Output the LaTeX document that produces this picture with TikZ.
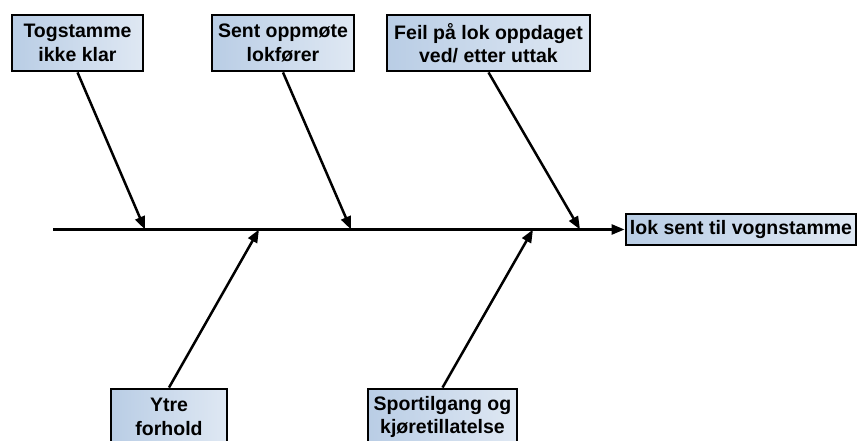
\documentclass[tikz,border=0pt]{standalone}
\usepackage{fontspec}
\setmainfont{Liberation Sans}
\usetikzlibrary{arrows.meta,positioning,shadows}
\definecolor{boxdark}{HTML}{B9CDE5}
\definecolor{boxlight}{HTML}{DFE8F3}

\begin{document}
\begin{tikzpicture}[x=1pt,y=1pt,
  cause/.style={draw,line width=2.8pt,left color=boxdark,right color=boxlight,
    align=center,inner sep=1pt,minimum height=56pt,
    font=\fontsize{19.5}{23.5}\selectfont\bfseries,
    drop shadow={opacity=0.25,shadow xshift=1pt,shadow yshift=-1pt}},
  effect/.style={cause,minimum height=31pt,minimum width=230pt},
  bone/.style={line width=2.5pt,-{Triangle[length=13pt,width=10pt]}}]
\useasboundingbox (0,0) rectangle (860,440);
\node[cause,minimum width=131pt] (togstamme) at (77.5,397) {Togstamme\\ikke klar};
\node[cause,minimum width=142pt] (oppmote) at (283,397) {Sent oppmøte\\lokfører};
\node[cause,minimum width=203pt] (feil) at (488.5,397) {Feil på lok oppdaget\\ved/ etter uttak};
\node[cause,minimum width=116pt] (ytre) at (169,23) {Ytre\\forhold};
\node[cause,minimum width=149pt] (sportilgang) at (442.5,23) {Sportilgang og\\kjøretillatelse};
\node[effect] (lok) at (741,210.5) {lok sent til vognstamme};
\coordinate (start) at (53,210.5);
\coordinate (p1) at (145,210.5);
\coordinate (p2) at (351,210.5);
\coordinate (p3) at (580,210.5);
\coordinate (q1) at (259,210.5);
\coordinate (q2) at (533,210.5);
\draw[bone] (start) -- (lok.west);
\draw[bone] (togstamme.south) -- (p1);
\draw[bone] (oppmote.south) -- (p2);
\draw[bone] (feil.south) -- (p3);
\draw[bone] (ytre.north) -- (q1);
\draw[bone] (sportilgang.north) -- (q2);
\end{tikzpicture}
\end{document}
